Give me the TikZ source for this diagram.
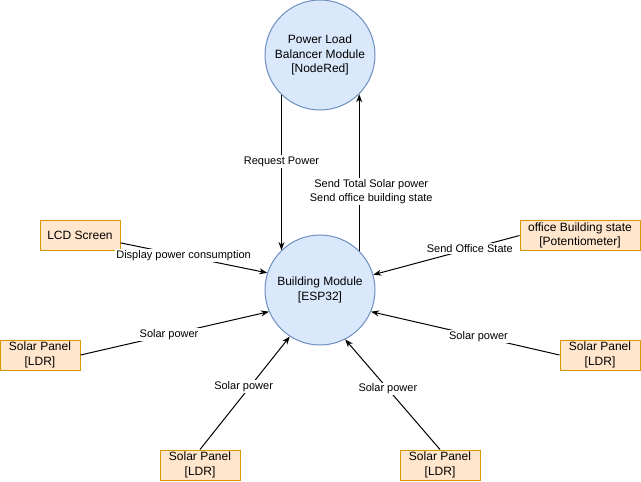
\documentclass[tikz,border=0pt]{standalone}
\usepackage{fontspec}
\setmainfont{Liberation Sans}
\usetikzlibrary{arrows.meta}
\definecolor{cfill}{HTML}{DAE8FC}
\definecolor{cdraw}{HTML}{6C8EBF}
\definecolor{bfill}{HTML}{FFE6CC}
\definecolor{bdraw}{HTML}{D79B00}
\begin{document}
\begin{tikzpicture}[x=0.75pt,y=-0.75pt,
  every node/.style={align=center, inner sep=0pt},
  module/.style={circle, draw=cdraw, fill=cfill, line width=0.75pt, minimum size=82.5pt, font=\fontsize{9}{11}\selectfont},
  device/.style={rectangle, draw=bdraw, fill=bfill, line width=0.75pt, minimum width=60pt, minimum height=22.5pt, font=\fontsize{9}{11}\selectfont},
  link/.style={line width=0.75pt, -{Stealth[length=6pt,width=4.5pt]}},
  lbl/.style={fill=white, inner sep=1pt, font=\fontsize{8.25}{10.5}\selectfont}]
\useasboundingbox (0,0) rectangle (641,481);
\node[module] (top) at (320,55) {Power Load\\Balancer Module\\{[NodeRed]}};
\node[module] (bot) at (320,290) {Building Module\\{[ESP32]}};
\node[device] (lcd) at (80,235) {LCD Screen};
\node[device, minimum width=90pt] (office) at (580,235.5) {office Building state\\{[Potentiometer]}};
\node[device] (spl) at (40,355) {Solar Panel\\{[LDR]}};
\node[device] (spr) at (600,355) {Solar Panel\\{[LDR]}};
\node[device] (spbl) at (200,465) {Solar Panel\\{[LDR]}};
\node[device] (spbr) at (440,465) {Solar Panel\\{[LDR]}};

\draw[link] (top.226) -- node[lbl, pos=0.43] {Request Power} (bot.134);
\draw[link] (bot.45) -- node[lbl, pos=0.38, xshift=9pt] {Send Total Solar power\\Send office building state} (top.315);
\draw[link] (lcd.-11) -- node[lbl, pos=0.43] {Display power consumption} (bot.162);
\draw[link] (spl.east) -- node[lbl, pos=0.47] {Solar power} (bot.203);
\draw[link] (office.west) -- node[lbl, pos=0.34] {Send Office State} (bot.16);
\draw[link] (spr.west) -- node[lbl, pos=0.43] {Solar power} (bot.337);
\draw[link] (spbl.north) -- node[lbl, pos=0.56, xshift=-5pt] {Solar power} (bot.237);
\draw[link] (spbr.north) -- node[lbl, pos=0.55] {Solar power} (bot.297);
\end{tikzpicture}
\end{document}
